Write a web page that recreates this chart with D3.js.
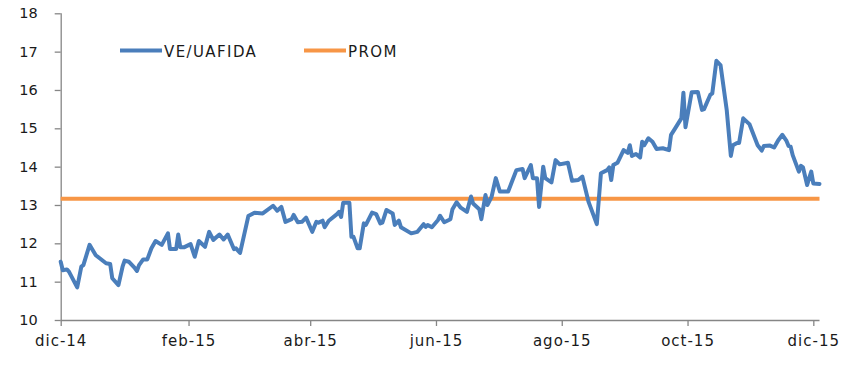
<!DOCTYPE html>
<html>
<head>
<meta charset="utf-8">
<script src="https://cdn.jsdelivr.net/npm/d3@7"></script>
<style>
  html, body { margin: 0; padding: 0; background: #fff; }
  svg { display: block; font-family: "DejaVu Sans", Verdana, sans-serif; }
</style>
</head>
<body>
<svg id="chart" width="856" height="379"></svg>
<script>
// ---- data ----
const dates = [
"2014-12-01","2014-12-02","2014-12-04","2014-12-05","2014-12-09","2014-12-11","2014-12-12","2014-12-15","2014-12-17","2014-12-18",
"2014-12-23","2014-12-25","2014-12-26","2014-12-29","2014-12-31","2015-01-01","2015-01-03","2015-01-06","2015-01-07","2015-01-08",
"2015-01-10","2015-01-12","2015-01-14","2015-01-16","2015-01-19","2015-01-22","2015-01-23","2015-01-26","2015-01-27","2015-01-28",
"2015-01-30","2015-02-02","2015-02-04","2015-02-06","2015-02-09","2015-02-11","2015-02-13","2015-02-16","2015-02-18","2015-02-20",
"2015-02-23","2015-02-24","2015-02-26","2015-03-02","2015-03-05","2015-03-09","2015-03-14","2015-03-16","2015-03-18","2015-03-20",
"2015-03-23","2015-03-24","2015-03-26","2015-03-28","2015-03-30","2015-04-02","2015-04-04","2015-04-05","2015-04-07","2015-04-08",
"2015-04-10","2015-04-14","2015-04-15","2015-04-16","2015-04-17","2015-04-20","2015-04-21","2015-04-22","2015-04-24","2015-04-25",
"2015-04-27","2015-04-28","2015-05-01","2015-05-03","2015-05-05","2015-05-06","2015-05-08","2015-05-11","2015-05-12","2015-05-14",
"2015-05-15","2015-05-20","2015-05-23","2015-05-26","2015-05-27","2015-05-28","2015-05-30","2015-06-02","2015-06-03","2015-06-05",
"2015-06-08","2015-06-09","2015-06-11","2015-06-13","2015-06-16","2015-06-18","2015-06-19","2015-06-22","2015-06-23","2015-06-25",
"2015-06-26","2015-06-28","2015-06-30","2015-07-02","2015-07-06","2015-07-10","2015-07-13","2015-07-14","2015-07-17","2015-07-18",
"2015-07-20","2015-07-21","2015-07-23","2015-07-24","2015-07-27","2015-07-29","2015-07-31","2015-08-04","2015-08-06","2015-08-09",
"2015-08-11","2015-08-14","2015-08-18","2015-08-20","2015-08-23","2015-08-24","2015-08-25","2015-08-26","2015-08-28","2015-08-31",
"2015-09-02","2015-09-03","2015-09-04","2015-09-06","2015-09-08","2015-09-09","2015-09-10","2015-09-12","2015-09-14","2015-09-16",
"2015-09-19","2015-09-22","2015-09-23","2015-09-25","2015-09-28","2015-09-29","2015-09-30","2015-10-03","2015-10-06","2015-10-08",
"2015-10-09","2015-10-12","2015-10-13","2015-10-15","2015-10-17","2015-10-20","2015-10-22","2015-10-23","2015-10-25","2015-10-26",
"2015-10-28","2015-10-31","2015-11-04","2015-11-06","2015-11-07","2015-11-10","2015-11-12","2015-11-14","2015-11-16","2015-11-18",
"2015-11-19","2015-11-20","2015-11-21","2015-11-24","2015-11-25","2015-11-26","2015-11-28","2015-11-29","2015-11-30","2015-12-01",
"2015-12-04"
];
const veUafida = [
11.52,11.30,11.32,11.26,10.85,11.39,11.43,11.96,11.78,11.69,
11.48,11.46,11.09,10.91,11.39,11.55,11.52,11.35,11.28,11.43,
11.58,11.58,11.87,12.06,11.96,12.26,11.85,11.85,12.23,11.90,
11.90,11.98,11.65,12.06,11.91,12.30,12.09,12.23,12.10,12.23,
11.85,11.87,11.75,12.71,12.80,12.78,12.98,12.85,12.95,12.56,
12.63,12.74,12.55,12.56,12.67,12.30,12.56,12.54,12.59,12.42,
12.59,12.76,12.82,12.69,13.06,13.06,12.17,12.17,11.87,11.87,
12.52,12.48,12.80,12.76,12.52,12.54,12.87,12.78,12.48,12.59,
12.42,12.26,12.30,12.50,12.43,12.48,12.42,12.61,12.72,12.55,
12.63,12.89,13.07,12.93,12.82,13.22,13.04,12.89,12.63,13.26,
13.00,13.22,13.70,13.35,13.35,13.91,13.94,13.70,14.04,13.70,
13.70,12.95,14.00,13.70,13.59,14.17,14.06,14.10,13.63,13.65,
13.74,13.08,12.50,13.83,13.91,13.98,13.65,14.04,14.10,14.43,
14.36,14.56,14.28,14.33,14.24,14.65,14.56,14.74,14.65,14.46,
14.48,14.43,14.83,15.00,15.26,15.93,15.03,15.94,15.95,15.48,
15.50,15.87,15.91,16.76,16.65,15.48,14.28,14.56,14.62,14.62,
15.26,15.11,14.56,14.42,14.54,14.55,14.50,14.69,14.83,14.67,
14.54,14.52,14.30,13.87,14.02,13.98,13.52,13.70,13.87,13.56,
13.55
];
const promValue = 13.16;
const seriesNames = ["VE/UAFIDA", "PROM"];
const yTicks = [10, 11, 12, 13, 14, 15, 16, 17, 18];
const xTickDates = ["2014-12-01","2015-02-01","2015-04-01","2015-06-01","2015-08-01","2015-10-01","2015-12-01"];
const xTickLabels = ["dic-14","feb-15","abr-15","jun-15","ago-15","oct-15","dic-15"];
const xDomain = ["2014-12-01", "2015-12-04"];

// ---- drawing ----
const parse = d3.utcParse("%Y-%m-%d");
const svg = d3.select("#chart");
const colors = { ve: "#4a7ebb", prom: "#f79646", axis: "#868686", text: "#1a1a1a" };
const FONT = '"DejaVu Sans", Verdana, sans-serif';

const x = d3.scaleUtc().domain(xDomain.map(parse)).range([60.7, 819.5]);
const y = d3.scaleLinear().domain([10, 18]).range([320, 13.3]);

const data = dates.map((d, i) => ({ date: parse(d), v: veUafida[i] }));

// y axis
const yAxis = svg.append("g")
  .attr("transform", `translate(${x.range()[0]},0)`)
  .call(d3.axisLeft(y).tickValues(yTicks).tickSize(6).tickPadding(17).tickFormat(d3.format("d")));
// x axis
const xAxis = svg.append("g")
  .attr("transform", `translate(0,${y(10)})`)
  .call(d3.axisBottom(x).tickValues(xTickDates.map(parse)).tickSize(6).tickPadding(9)
        .tickFormat((d, i) => xTickLabels[i]));

[yAxis, xAxis].forEach(g => {
  g.select(".domain").attr("stroke", colors.axis).attr("stroke-width", 1.3);
  g.selectAll(".tick line").attr("stroke", colors.axis).attr("stroke-width", 1.3);
  g.selectAll(".tick text").attr("fill", colors.text)
    .style("font-family", FONT).style("font-size", "14.5px");
});
xAxis.selectAll(".tick text").style("font-size", "15px").style("letter-spacing", "1px");
xAxis.select(".domain").attr("d", `M${x.range()[0]},0.5H${x.range()[1]}`);
yAxis.select(".domain").attr("d", `M0.5,${y.range()[1]}V${y.range()[0]}`);

// PROM line
svg.append("line")
  .attr("x1", x.range()[0]).attr("x2", x.range()[1])
  .attr("y1", y(promValue)).attr("y2", y(promValue))
  .attr("stroke", colors.prom).attr("stroke-width", 4);

// VE/UAFIDA line
svg.append("path")
  .datum(data)
  .attr("fill", "none")
  .attr("stroke", colors.ve)
  .attr("stroke-width", 4)
  .attr("stroke-linejoin", "round")
  .attr("stroke-linecap", "round")
  .attr("d", d3.line().x(d => x(d.date)).y(d => y(d.v)));

// legend
const legend = svg.append("g").style("font-family", FONT).style("font-size", "15px").style("letter-spacing", "1.4px");
const legItems = [
  { name: seriesNames[0], color: colors.ve, x0: 120 },
  { name: seriesNames[1], color: colors.prom, x0: 304 }
];
legItems.forEach(it => {
  legend.append("line").attr("x1", it.x0).attr("x2", it.x0 + 42).attr("y1", 50.5).attr("y2", 50.5)
    .attr("stroke", it.color).attr("stroke-width", 4);
  legend.append("text").attr("x", it.x0 + 44).attr("y", 56.5).attr("fill", colors.text).text(it.name);
});
</script>
</body>
</html>
